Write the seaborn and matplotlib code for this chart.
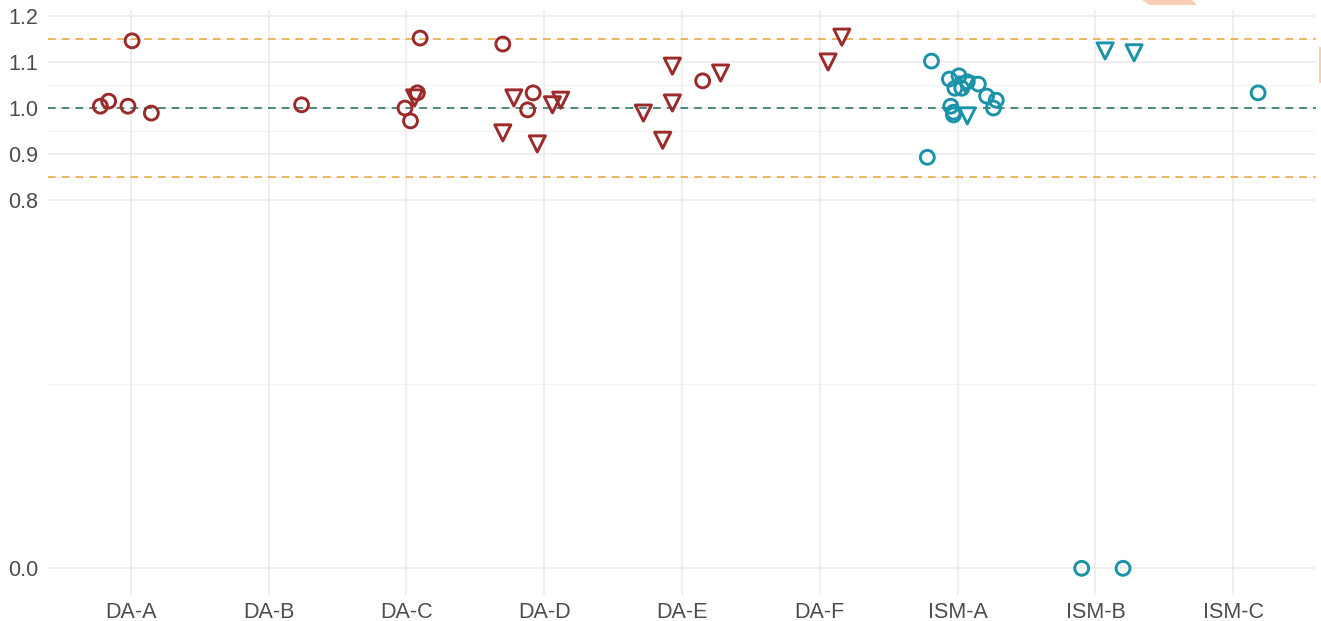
import numpy as np
import pandas as pd
import matplotlib
matplotlib.use("Agg")
import matplotlib.pyplot as plt
import seaborn as sns
from matplotlib.patches import Polygon

# ---------------- data ----------------
categories = ["DA-A", "DA-B", "DA-C", "DA-D", "DA-E", "DA-F", "ISM-A", "ISM-B", "ISM-C"]

pt_category = (["DA-A"] * 5 + ["DA-B"] + ["DA-C"] * 5 + ["DA-D"] * 8 + ["DA-E"] * 6 +
               ["DA-F"] * 2 + ["ISM-A"] * 16 + ["ISM-B"] * 4 + ["ISM-C"])
pt_jitter = [-0.22, -0.16, -0.02, 0.01, 0.15,
             0.24,
             -0.01, 0.03, 0.10, 0.08, 0.06,
             -0.30, -0.22, -0.08, -0.12, 0.06, 0.12, -0.30, -0.05,
             -0.28, -0.14, -0.07, -0.07, 0.15, 0.28,
             0.06, 0.16,
             -0.19, -0.22, -0.06, 0.01, -0.02, 0.03, 0.07, 0.15, 0.21, 0.28, 0.26, -0.05, -0.03, -0.03, 0.06, 0.07,
             0.07, 0.28, -0.10, 0.20,
             0.18]
pt_value = [1.004, 1.015, 1.004, 1.146, 0.989,
            1.007,
            1.000, 0.972, 1.152, 1.033, 1.022,
            1.139, 1.022, 1.033, 0.996, 1.007, 1.017, 0.946, 0.922,
            0.989, 0.930, 1.011, 1.091, 1.059, 1.076,
            1.100, 1.154,
            1.102, 0.893, 1.063, 1.070, 1.043, 1.043, 1.057, 1.052, 1.026, 1.017, 1.000, 1.004, 0.991, 0.985, 1.050, 0.983,
            1.124, 1.120, 0.000, 0.000,
            1.033]
pt_shape = (["circle"] * 5 + ["circle"] +
            ["circle"] * 4 + ["triangle"] +
            ["circle", "triangle", "circle", "circle", "triangle", "triangle", "triangle", "triangle"] +
            ["triangle", "triangle", "triangle", "triangle", "circle", "triangle"] +
            ["triangle", "triangle"] +
            ["circle"] * 14 + ["triangle", "triangle"] +
            ["triangle", "triangle", "circle", "circle"] +
            ["circle"])

ref_lines = [0.85, 1.0, 1.15]
y_major = [0.0, 0.8, 0.9, 1.0, 1.1, 1.2]
y_minor = [0.4, 0.85, 0.95, 1.05, 1.15]

# ---------------- styling ----------------
RED = "#9B2B2B"
TEAL = "#1A93A8"
ORANGE = "#E8A33A"
GREEN = "#1F6E5E"
GRID = "#EBEBEB"
TEXT = "#4D4D4D"

sns.set_theme(style="white")
plt.rcParams["font.family"] = ["Liberation Sans", "DejaVu Sans"]

df = pd.DataFrame({"category": pt_category, "jitter": pt_jitter,
                   "value": pt_value, "shape": pt_shape})
df["pos"] = df["category"].map({c: i for i, c in enumerate(categories)}) + df["jitter"]
df["group"] = np.where(df["category"].str.startswith("DA"), "DA", "ISM")

fig = plt.figure(figsize=(13.21, 6.21), dpi=100)
ax = fig.add_axes([48 / 1321, 26 / 621, (1316 - 48) / 1321, (595 - 10) / 621])

# grid
for y in y_major:
    ax.axhline(y, color=GRID, lw=1.1, zorder=0)
for y in y_minor:
    ax.axhline(y, color="#F3F3F3", lw=0.9, zorder=0)
for i in range(len(categories)):
    ax.axvline(i, color=GRID, lw=1.1, zorder=0)

# reference lines
ax.axhline(ref_lines[0], color=ORANGE, lw=1.1, ls=(0, (5, 4)), zorder=1)
ax.axhline(ref_lines[2], color=ORANGE, lw=1.1, ls=(0, (5, 4)), zorder=1)
ax.axhline(ref_lines[1], color=GREEN, lw=1.1, ls=(0, (5, 4)), zorder=1)

colors = {"DA": RED, "ISM": TEAL}
markers = {"circle": ("o", 100), "triangle": ("v", 135)}
for (grp, shp), sub in df.groupby(["group", "shape"]):
    m, s = markers[shp]
    sns.scatterplot(data=sub, x="pos", y="value", marker=m, s=s,
                    facecolor="none", edgecolor=colors[grp], linewidth=2.1,
                    ax=ax, zorder=3, legend=False)

ax.set_xlim(-0.6, len(categories) - 1 + 0.6)
ax.set_ylim(-0.058, 1.213)
ax.set_xticks(range(len(categories)))
ax.set_xticklabels(categories)
ax.set_yticks(y_major)
ax.set_yticklabels([f"{v:.1f}" for v in y_major])
ax.tick_params(axis="both", length=0, labelsize=15.5, colors=TEXT)
ax.tick_params(axis="x", pad=5)
ax.tick_params(axis="y", pad=7)
ax.set_xlabel("")
ax.set_ylabel("")
for sp in ax.spines.values():
    sp.set_visible(False)

# faint decoration shapes at the top-right edge of the reference
fig.patches.append(Polygon([[1142 / 1321, 1.0], [1192 / 1321, 1.0], [1197 / 1321, 1 - 5 / 621],
                            [1150 / 1321, 1 - 5 / 621]], closed=True, transform=fig.transFigure,
                           facecolor="#F9CDB4", edgecolor="none", joinstyle="miter"))
fig.patches.append(Polygon([[1319 / 1321, 1 - 47 / 621], [1.0, 1 - 47 / 621], [1.0, 1 - 83 / 621],
                            [1319 / 1321, 1 - 83 / 621]], closed=True, transform=fig.transFigure,
                           facecolor="#F9CDB4", edgecolor="none"))

fig.savefig("out.png", dpi=100)
